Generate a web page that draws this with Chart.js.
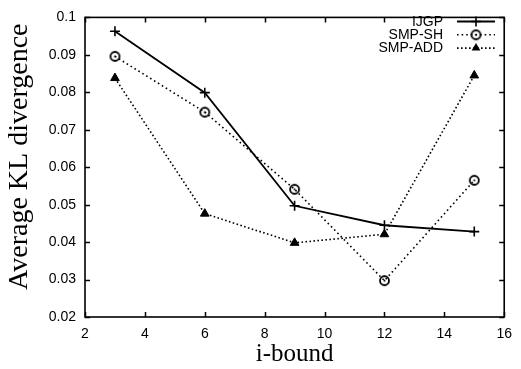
<!DOCTYPE html>
<html>
<head>
<meta charset="utf-8">
<script src="https://cdn.jsdelivr.net/npm/chart.js@4/dist/chart.umd.min.js"></script>
<style>
html,body{margin:0;padding:0;background:#fff;}
#wrap{width:521px;height:369px;}
</style>
</head>
<body>
<div id="wrap"><canvas id="c" width="521" height="369"></canvas></div>
<script>
const iBound = [3, 6, 9, 12, 15];
const ijgp = [0.0963, 0.0799, 0.0497, 0.0445, 0.0428];
const smpSH = [0.0896, 0.0747, 0.0541, 0.0297, 0.0565];
const smpADD = [0.0838, 0.0476, 0.0398, 0.0421, 0.0845];
const seriesNames = ['IJGP', 'SMP-SH', 'SMP-ADD'];
const xTickLabels = ['2', '4', '6', '8', '10', '12', '14', '16'];
const yTickLabels = ['0.02', '0.03', '0.04', '0.05', '0.06', '0.07', '0.08', '0.09', '0.1'];

// circle with a dot marker
const circ = document.createElement('canvas');
circ.width = 13; circ.height = 13;
(function(){
  const g = circ.getContext('2d');
  g.strokeStyle = '#000'; g.lineWidth = 1.8;
  g.beginPath(); g.arc(6.5, 6.5, 4.5, 0, Math.PI*2); g.stroke();
  g.fillStyle = '#000';
  g.beginPath(); g.arc(6.5, 6.5, 1.0, 0, Math.PI*2); g.fill();
})();

const toPts = arr => arr.map((v, i) => ({x: iBound[i], y: v}));

const frame = {
  id: 'frame',
  afterDatasetsDraw(chart) {
    const {ctx, chartArea: a, scales} = chart;
    ctx.save();
    ctx.strokeStyle = '#000';
    ctx.lineWidth = 1.5;
    ctx.beginPath();
    scales.x.ticks.forEach(t => {
      const px = Math.round(scales.x.getPixelForValue(t.value)) + 0.5;
      ctx.moveTo(px, a.bottom); ctx.lineTo(px, a.bottom - 5);
      if (px < 400 || px > a.right - 2) {
        ctx.moveTo(px, a.top); ctx.lineTo(px, a.top + 5);
      }
    });
    scales.y.ticks.forEach(t => {
      const py = Math.round(scales.y.getPixelForValue(t.value)) + 0.5;
      ctx.moveTo(a.left, py); ctx.lineTo(a.left + 5, py);
      ctx.moveTo(a.right, py); ctx.lineTo(a.right - 5, py);
    });
    ctx.stroke();
    ctx.lineWidth = 1.6;
    ctx.strokeRect(a.left, a.top, a.right - a.left, a.bottom - a.top);

    // legend
    ctx.font = '14px "Liberation Sans", Arial, sans-serif';
    ctx.fillStyle = '#000';
    ctx.textAlign = 'right';
    ctx.textBaseline = 'middle';
    chart.data.datasets.forEach((ds, i) => {
      const y = 21.5 + i * 13.3;
      ctx.fillText(ds.label, 443, y + 0.5);
      ctx.save();
      ctx.lineWidth = ds.borderWidth;
      ctx.setLineDash(ds.borderDash || []);
      ctx.beginPath(); ctx.moveTo(457, y); ctx.lineTo(495, y); ctx.stroke();
      ctx.restore();
      const mx = 476;
      if (ds.pointStyle === 'cross') {
        ctx.lineWidth = 1.6;
        ctx.beginPath();
        ctx.moveTo(mx - 5, y); ctx.lineTo(mx + 5, y);
        ctx.moveTo(mx, y - 5); ctx.lineTo(mx, y + 5);
        ctx.stroke();
      } else if (ds.pointStyle === 'triangle') {
        const r = ds.pointRadius;
        ctx.beginPath();
        ctx.moveTo(mx, y - r);
        ctx.lineTo(mx + r * 0.87, y + r * 0.5);
        ctx.lineTo(mx - r * 0.87, y + r * 0.5);
        ctx.closePath(); ctx.fill();
      } else {
        ctx.drawImage(ds.pointStyle, mx - circ.width/2, y - circ.height/2);
      }
    });
    ctx.restore();
  }
};

new Chart(document.getElementById('c'), {
  type: 'line',
  data: {
    datasets: [
      {label: seriesNames[0], data: toPts(ijgp), borderColor: '#000', backgroundColor: '#000',
       borderWidth: 1.8, pointStyle: 'cross', pointRadius: 5, pointBorderWidth: 1.6, pointBorderColor: '#000'},
      {label: seriesNames[1], data: toPts(smpSH), borderColor: '#000', backgroundColor: '#000',
       borderWidth: 1.6, borderDash: [1.6, 3], pointStyle: circ, pointRadius: 5},
      {label: seriesNames[2], data: toPts(smpADD), borderColor: '#000', backgroundColor: '#000',
       borderWidth: 1.6, borderDash: [1.6, 2.4], pointStyle: 'triangle', pointRadius: 5,
       pointBackgroundColor: '#000', pointBorderWidth: 1}
    ]
  },
  options: {
    responsive: false,
    animation: false,
    events: [],
    layout: {padding: {top: 10, right: 10, left: 0, bottom: 0}},
    plugins: {legend: {display: false}, tooltip: {enabled: false}},
    scales: {
      x: {
        type: 'linear', min: 2, max: 16,
        grid: {display: false, drawTicks: false},
        border: {display: false},
        afterFit(s) { s.height = 52; },
        ticks: {stepSize: 2, padding: 9, color: '#000',
          font: {family: '"Liberation Sans", Arial, sans-serif', size: 14},
          callback: (v, i) => xTickLabels[i]},
        title: {display: true, text: 'i-bound', color: '#000',
          font: {family: '"Liberation Serif", "Times New Roman", serif', size: 25, lineHeight: 1},
          padding: {top: 0, bottom: 2}}
      },
      y: {
        type: 'linear', min: 0.02, max: 0.1,
        grid: {display: false, drawTicks: false},
        border: {display: false},
        afterFit(s) { s.width = 85; },
        ticks: {stepSize: 0.01, padding: 9, color: '#000',
          font: {family: '"Liberation Sans", Arial, sans-serif', size: 14},
          callback: (v, i) => yTickLabels[i]},
        title: {display: true, text: '   Average KL divergence', color: '#000',
          font: {family: '"Liberation Serif", "Times New Roman", serif', size: 28, lineHeight: 1},
          padding: {top: 6, bottom: 0}}
      }
    }
  },
  plugins: [frame]
});
</script>
</body>
</html>
